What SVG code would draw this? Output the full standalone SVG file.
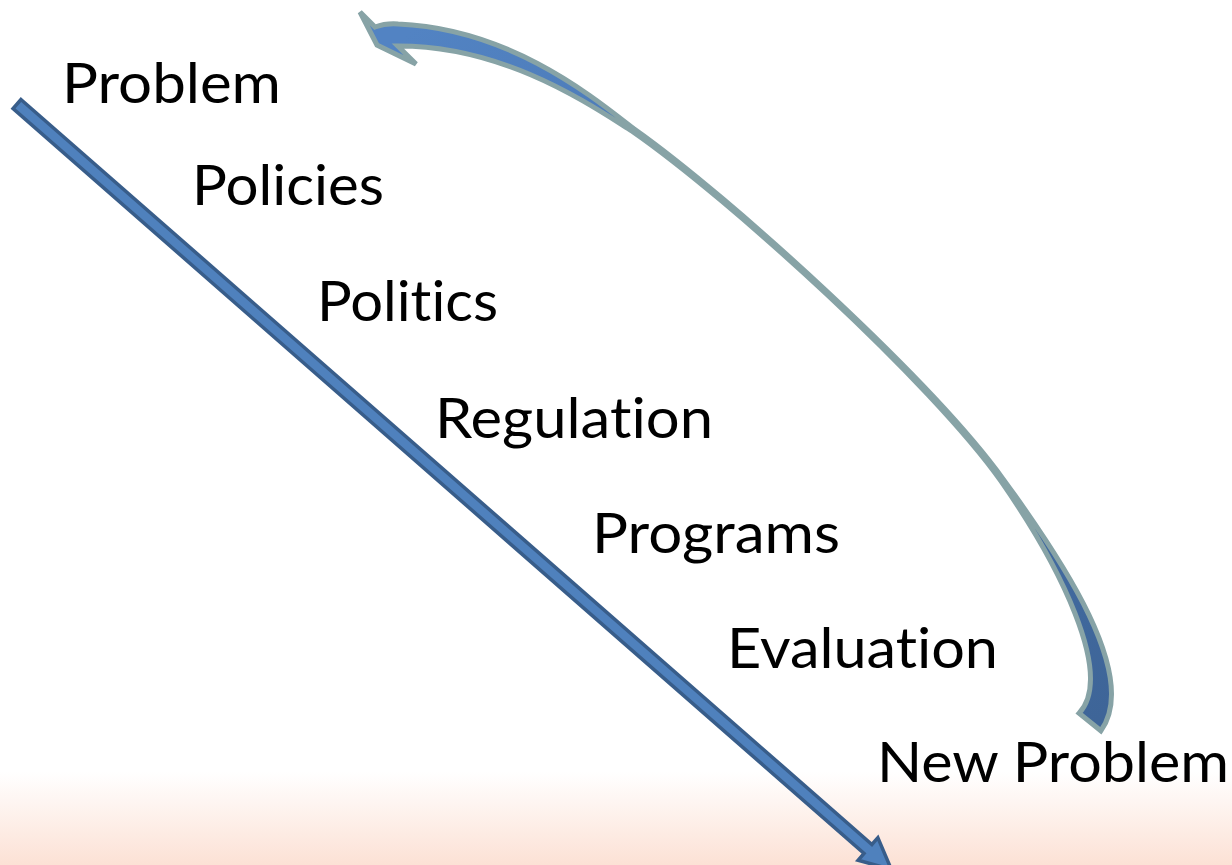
<svg xmlns="http://www.w3.org/2000/svg" width="1232" height="865" viewBox="0 0 1232 865">
  <defs>
    <linearGradient id="bg" x1="0" y1="772" x2="0" y2="865" gradientUnits="userSpaceOnUse">
      <stop offset="0" stop-color="#ffffff"/>
      <stop offset="1" stop-color="#fce1d5"/>
    </linearGradient>
    <linearGradient id="curveFill" x1="400" y1="40" x2="1100" y2="720" gradientUnits="userSpaceOnUse">
      <stop offset="0" stop-color="#5283c3"/>
      <stop offset="1" stop-color="#3e6598"/>
    </linearGradient>
    <style>
      .lbl { font-family: Lato, "Open Sans", "Liberation Sans", sans-serif; font-size: 56px; fill: #000; font-variant-ligatures: none; font-feature-settings: "liga" 0, "clig" 0; }
      .straight { fill: #4f81bd; stroke: #385d8a; stroke-width: 3.5; stroke-linejoin: miter; }
      .curved { fill: url(#curveFill); stroke: #87a3a6; stroke-width: 5; stroke-linejoin: miter; }
    </style>
  </defs>
  <rect x="0" y="0" width="1232" height="865" fill="#ffffff"/>
  <rect x="0" y="772" width="1232" height="93" fill="url(#bg)"/>

  <g id="connectors">
    <g id="straight-arrow" transform="translate(17,104) rotate(41.2)">
      <path class="straight" d="M0,-6 L1131,-6 L1131,-15 L1162,0 L1131,15 L1131,6 L0,6 Z"/>
    </g>
    <g id="curved-arrow">
      <path class="curved" d="M375,27 Q386,23 398.2,24 C511,28.7 594.4,98.2 633.9,128.8 C731.9,198 933,381.6 1003.2,479.1 C1062.2,560 1140.2,676.2 1100.9,730.8 L1079.1,713.2 C1115.2,674.4 1058,562.8 1000.8,480.9 C931.6,383 730.7,199.6 632.1,131.2 C589.6,104.6 505,45.7 397.8,46 L416,64 L377,45 L360,12 Z"/>
    </g>
  </g>

  <g id="node-problem"><text class="lbl" x="62" y="103" textLength="219" lengthAdjust="spacingAndGlyphs">Problem</text></g>
  <g id="node-policies"><text class="lbl" x="192" y="205" textLength="192" lengthAdjust="spacingAndGlyphs">Policies</text></g>
  <g id="node-politics"><text class="lbl" x="317" y="321" textLength="181" lengthAdjust="spacingAndGlyphs">Politics</text></g>
  <g id="node-regulation"><text class="lbl" x="435" y="438" textLength="278" lengthAdjust="spacingAndGlyphs">Regulation</text></g>
  <g id="node-programs"><text class="lbl" x="592" y="553" textLength="248" lengthAdjust="spacingAndGlyphs">Programs</text></g>
  <g id="node-evaluation"><text class="lbl" x="727" y="668" textLength="271" lengthAdjust="spacingAndGlyphs">Evaluation</text></g>
  <g id="node-new-problem"><text class="lbl" x="877" y="782" textLength="352" lengthAdjust="spacingAndGlyphs">New Problem</text></g>
</svg>
